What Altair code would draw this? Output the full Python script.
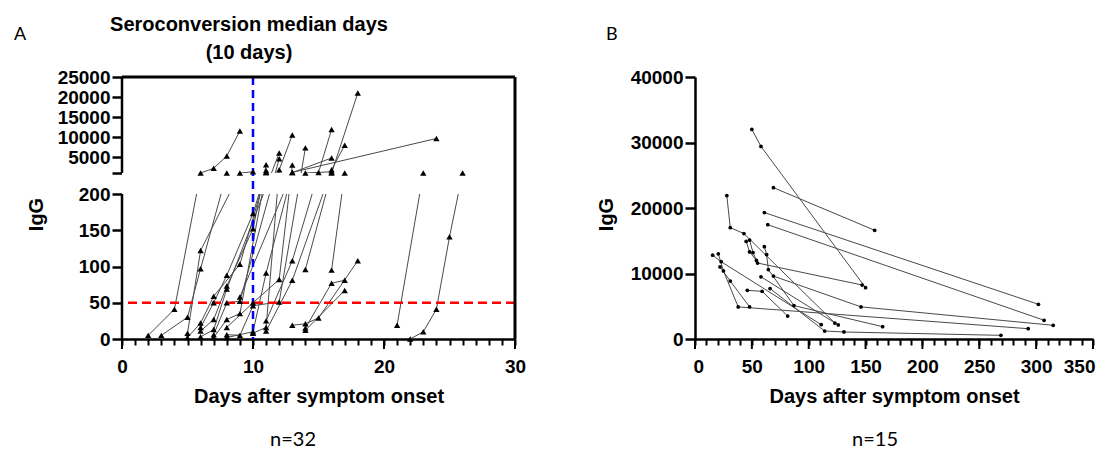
import altair as alt
import pandas as pd

# ---------------- Panel A : seroconversion (broken y axis) ----------------
A_PATIENT = [1, 1, 1, 1, 1, 1, 2, 2, 2, 2, 3, 3, 3, 3, 4, 4, 4, 4, 4, 5, 5, 5, 5, 5,
             6, 6, 6, 6, 6, 7, 7, 7, 7, 8, 8, 8, 8, 9, 9, 9, 9, 10, 10, 10, 10,
             11, 11, 11, 11, 11, 12, 12, 12, 12, 12, 13, 13, 13, 13, 14, 14, 14, 14,
             15, 15, 15, 16, 16, 16, 16, 17, 17, 17, 18, 18, 18, 18, 19, 19, 19,
             20, 20, 21, 21, 22, 22, 23, 23, 24, 24, 24, 24, 24]
A_DAY = [2, 4, 6, 7, 8, 9, 3, 5, 6, 8, 5, 6, 9, 10, 5, 6, 7, 9, 11, 6, 7, 8, 10, 11,
         6, 7, 8, 10, 11, 6, 7, 8, 12, 7, 8, 9, 12, 7, 8, 9, 11, 8, 10, 12, 13,
         8, 9, 10, 12, 14, 8, 10, 11, 13, 16, 10, 11, 12, 13, 11, 13, 15, 16,
         14, 16, 18, 11, 13, 16, 17, 9, 13, 24, 13, 14, 15, 18, 14, 16, 17,
         14, 17, 14, 16, 16, 17, 21, 23, 22, 23, 24, 25, 26]
A_IGG = [5, 41, 1000, 2200, 5250, 11500, 5, 30, 97, 1000, 8, 122, 1000, 1300,
         2, 22, 59, 103, 1100, 16, 50, 88, 173, 1600, 11, 27, 73, 152, 3050,
         3, 13, 69, 6000, 6, 50, 52, 4570, 2, 27, 35, 1150, 16, 50, 82, 3000,
         6, 5, 46, 51, 7280, 2, 10, 91, 1100, 4750, 8, 16, 1800, 10490,
         25, 108, 1100, 11900, 96, 1000, 21000, 11, 81, 1800, 7950, 58, 1150, 9630,
         19, 21, 29, 108, 15, 77, 81, 12, 67, 1000, 1300, 95, 1000, 19, 1000,
         0, 10, 41, 141, 1000]
A_THRESHOLD = [50]
A_MEDIAN_DAY = [10]
A_XTICKS = list(range(0, 31))
A_XMAJOR = [0, 10, 20, 30]
A_YTICKS = [0, 50, 100, 150, 200, 1000, 5000, 10000, 15000, 20000, 25000]
LOW_MAX, UP_MIN, UP_MAX = 200, 1000, 25000   # the two axis segments

# ---------------- Panel B : follow-up ----------------
B_PATIENT = [1, 1, 1, 2, 2, 3, 3, 4, 4, 5, 5, 5, 5, 6, 6, 6, 6, 7, 7, 7,
             8, 8, 8, 8, 8, 9, 9, 9, 10, 10, 10, 11, 11, 11, 11, 12, 12, 12,
             13, 13, 13, 13, 14, 14, 14, 15, 15]
B_DAY = [50, 58, 150, 69, 158, 61, 302, 64, 307, 28, 31, 43, 123, 48, 51, 55, 147,
         45, 48, 54, 61, 63, 64.5, 87, 165, 69, 146, 315, 15.5, 23, 111,
         20.5, 25, 38, 293, 22, 31, 48, 66, 114, 131, 269, 46, 59, 81.5, 58, 126]
B_IGG = [32000, 29400, 7830, 23100, 16600, 19300, 5300, 17450, 2860,
         21900, 17000, 16100, 2440, 15100, 13200, 11600, 8240, 14900, 13300, 12000,
         14100, 12900, 10600, 5100, 1880, 9600, 4900, 2090, 12800, 11800, 2190,
         13000, 10400, 4900, 1570, 11000, 8850, 4900, 7700, 1220, 1070, 560,
         7430, 7280, 3510, 9500, 2140]
B_XTICKS = list(range(0, 351, 10))
B_XMAJOR = list(range(0, 351, 50))
B_YTICKS = [0, 10000, 20000, 30000, 40000]

# ---------------- layout / style ----------------
W_A, W_B, H = 393, 398, 262
LOW_H, UP_Y0 = 145, 166          # lower segment height, start of upper segment
AXF = "Liberation Sans"
TXF = "Lato"


def seg(v):
    if v <= LOW_MAX:
        return v * LOW_H / LOW_MAX
    return UP_Y0 + (v - UP_MIN) * (H - UP_Y0) / (UP_MAX - UP_MIN)


def seg_expr(f):
    return (f"{f} <= {LOW_MAX} ? {f}*{LOW_H}/{LOW_MAX} : "
            f"{UP_Y0} + ({f}-{UP_MIN})*{H - UP_Y0}/{UP_MAX - UP_MIN}")


def text(s, x, y, font, size, weight="normal", align="left", baseline="alphabetic"):
    return alt.Chart(pd.DataFrame({"s": [s]})).mark_text(
        font=font, fontSize=size, fontWeight=weight, align=align,
        baseline=baseline, color="black").encode(
        text="s:N", x=alt.value(x), y=alt.value(y))


common_axis = dict(labelFont=AXF, labelFontSize=19, labelFontWeight="bold",
                   labelColor="black", titleFont=AXF, titleFontSize=20,
                   titleFontWeight="bold", titleColor="black", grid=False,
                   tickColor="black", domainColor="black", labelOverlap=False)

# ---- Panel A ----
dfA = pd.DataFrame({"patient": A_PATIENT, "day": A_DAY, "igg": A_IGG})
xA_axis = alt.Axis(values=A_XTICKS, format="d",
                   labelExpr="datum.value % 10 === 0 ? datum.label : ''",
                   tickSize=6, tickWidth=2, domainWidth=2.5, labelPadding=12,
                   labelFlush=False, title="Days after symptom onset",
                   titleY=57, titleBaseline="middle", **common_axis)
yA_label = (f"datum.value <= {LOW_H + 0.5} ? format(datum.value*{LOW_MAX}/{LOW_H}, '.0f') : "
            f"(datum.value < {UP_Y0 + 1} ? '' : format({UP_MIN} + (datum.value-{UP_Y0})*"
            f"{UP_MAX - UP_MIN}/{H - UP_Y0}, '.0f'))")
yA_axis = alt.Axis(values=[seg(v) for v in A_YTICKS], labelExpr=yA_label,
                   domain=False, tickSize=10, tickWidth=2.5, labelPadding=2,
                   title="IgG", titleX=-86, titleY=137, titleAngle=-90,
                   titleAlign="center", titleBaseline="middle", **common_axis)
xA_scale = alt.Scale(domain=[0, 30], nice=False)
yA_scale = alt.Scale(domain=[0, H], nice=False, zero=False)


def xa(field="day:Q"):
    return alt.X(field, scale=xA_scale, axis=xA_axis)


def ya(field):
    return alt.Y(field, scale=yA_scale, axis=yA_axis)


baseA = alt.Chart(dfA).transform_calculate(t=seg_expr("datum.igg"))
linesA = baseA.mark_line(color="#4a4a4a", strokeWidth=1).encode(
    x=xa(), y=ya("t:Q"), detail="patient:N")
gapA = alt.Chart(pd.DataFrame({"lo": [LOW_MAX], "hi": [UP_MIN]})).transform_calculate(
    t1=seg_expr("datum.lo"), t2=seg_expr("datum.hi")).mark_rect(color="white").encode(
    x=alt.value(0), x2=alt.value(W_A), y=ya("t1:Q"), y2="t2:Q")
thrA = alt.Chart(pd.DataFrame({"igg": A_THRESHOLD})).transform_calculate(
    t=seg_expr("datum.igg")).mark_rule(color="#ff0000", strokeWidth=2.5,
                                       strokeDash=[9, 5]).encode(y=ya("t:Q"))
medA = alt.Chart(pd.DataFrame({"day": A_MEDIAN_DAY})).mark_rule(
    color="#0000ff", strokeWidth=2.5, strokeDash=[8, 5]).encode(x=xa())
axisSegA = alt.Chart(pd.DataFrame({"lo": [0, UP_MIN], "hi": [LOW_MAX, UP_MAX]})).transform_calculate(
    t1=seg_expr("datum.lo"), t2=seg_expr("datum.hi")).mark_rule(
    color="black", strokeWidth=2.5).encode(x=alt.value(0), y=ya("t1:Q"), y2="t2:Q")
topA = alt.Chart(pd.DataFrame({"igg": [UP_MAX]})).transform_calculate(
    t=seg_expr("datum.igg")).mark_rule(color="black", strokeWidth=3).encode(y=ya("t:Q"))
rightA = alt.Chart(pd.DataFrame({"day": [30]})).mark_rule(color="black", strokeWidth=3).encode(
    x=xa())
majA = alt.Chart(pd.DataFrame({"day": A_XMAJOR})).mark_rule(color="black", strokeWidth=2).encode(
    x=xa(), y=alt.value(H), y2=alt.value(H + 10))
ptsA = baseA.mark_point(shape="triangle-up", filled=True, color="black", size=40, opacity=1).encode(
    x=xa(), y=ya("t:Q"))

panelA = alt.layer(
    linesA, gapA, thrA, medA, axisSegA, topA, rightA, majA, ptsA,
    text("A", -108, -37, TXF, 18),
    text("Seroconversion median days", 127, -46.5, AXF, 20, "bold", "center"),
    text("(10 days)", 127, -18.5, AXF, 20, "bold", "center"),
    text("n=32", 171, 363, TXF, 20, align="center", baseline="middle"),
).properties(width=W_A, height=H)

# ---- Panel B ----
dfB = pd.DataFrame({"patient": B_PATIENT, "day": B_DAY, "igg": B_IGG})
xB_axis = alt.Axis(values=B_XTICKS, format="d",
                   labelExpr="datum.value % 50 === 0 ? datum.label : ''",
                   tickSize=6, tickWidth=2, domainWidth=2.5, labelPadding=12,
                   labelFlush=True, labelFlushOffset=2, title="Days after symptom onset",
                   titleY=57, titleBaseline="middle", **common_axis)
yB_axis = alt.Axis(values=B_YTICKS, format="d", tickSize=10, tickWidth=2.5,
                   domainWidth=2.5, labelPadding=2, title="IgG", titleX=-89,
                   titleY=137, titleAngle=-90, titleAlign="center",
                   titleBaseline="middle", **common_axis)
xB_scale = alt.Scale(domain=[0, 350], nice=False)
yB_scale = alt.Scale(domain=[0, 40000], nice=False)


def xb(field="day:Q"):
    return alt.X(field, scale=xB_scale, axis=xB_axis)


def yb(field="igg:Q"):
    return alt.Y(field, scale=yB_scale, axis=yB_axis)


baseB = alt.Chart(dfB)
linesB = baseB.mark_line(color="#4a4a4a", strokeWidth=1).encode(
    x=xb(), y=yb(), detail="patient:N")
majB = alt.Chart(pd.DataFrame({"day": B_XMAJOR})).mark_rule(color="black", strokeWidth=2).encode(
    x=xb(), y=alt.value(H), y2=alt.value(H + 10))
ptsB = baseB.mark_circle(color="black", size=14, opacity=1).encode(x=xb(), y=yb())

panelB = alt.layer(
    linesB, majB, ptsB,
    text("B", -89, -37, TXF, 18),
    text("n=15", 180, 363, TXF, 20, align="center", baseline="middle"),
).properties(width=W_B, height=H)

chart = alt.hconcat(panelA, panelB, spacing=180, bounds="flush").properties(
    padding={"left": 5, "top": 6, "right": 0, "bottom": 0}
).configure_view(stroke="transparent")

chart.save("out.html", embed_options={"renderer": "svg", "actions": False})
